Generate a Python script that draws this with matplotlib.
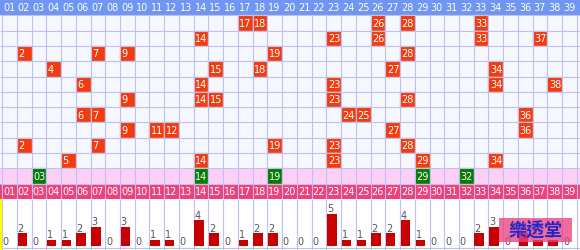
import matplotlib
matplotlib.use("Agg")
import matplotlib.pyplot as plt
from matplotlib.patches import Rectangle

numbers = list(range(1, 40))

draws = [
    [17, 18, 26, 28, 33],
    [14, 23, 26, 33, 37],
    [2, 7, 9, 19, 28],
    [4, 15, 18, 27, 34],
    [6, 14, 23, 34, 38],
    [9, 14, 15, 23, 28],
    [6, 7, 24, 25, 36],
    [9, 11, 12, 27, 36],
    [2, 7, 19, 23, 28],
    [5, 14, 23, 29, 34],
]
special = [3, 14, 19, 29, 32]
counts = [0, 2, 0, 1, 1, 2, 3, 0, 3, 0, 1, 1, 0, 4, 2, 0, 1, 2, 2, 0,
          0, 0, 5, 1, 1, 2, 2, 4, 1, 0, 0, 0, 2, 3, 0, 2, 1, 1, 0]

blue = '#6f96f2'
grid = '#c0c0f0'
red = '#f23c10'
green = '#057a05'
pink = '#fcd0f6'
pinkhead = '#ef4079'
cellbg = '#f5f8ff'

fig = plt.figure(figsize=(5.8, 2.5), dpi=100)
top = fig.add_axes([0, 51 / 250, 1, 199 / 250])
bot = fig.add_axes([0, 0, 1, 51 / 250])

xl = (0.36, 39.71)

for ax in (top, bot):
    ax.set_xlim(xl)
    ax.set_xticks([])
    ax.set_yticks([])
    for s in ax.spines.values():
        s.set_visible(False)

# table part
top.set_ylim(13, 0)
top.set_facecolor(cellbg)
top.axhspan(0, 1, color=blue, lw=0)
top.axhspan(11, 12, color=pink, lw=0)
top.axhspan(12, 13, color=pinkhead, lw=0)
top.vlines([n - 0.5 for n in numbers] + [39.5], 1, 13, color=grid, lw=0.8)
top.hlines(range(1, 13), xl[0], xl[1], color=grid, lw=0.8)

for n in numbers:
    top.text(n - 0.43, 0.55, f'{n:02d}', color='white', fontsize=7, ha='left', va='center')
    top.text(n - 0.43, 12.55, f'{n:02d}', color='white', fontsize=7, ha='left', va='center')

for r, row in enumerate(draws):
    for n in row:
        top.add_patch(Rectangle((n - 0.5, r + 1), 1, 1, fc=red, ec='#f4a898', lw=0.3))
        top.text(n - 0.4, r + 1.55, str(n), color='white', fontsize=7, ha='left', va='center')

for n in special:
    top.add_patch(Rectangle((n - 0.5, 11), 1, 1, fc=green, ec='#a0c8a0', lw=0.3))
    top.text(n - 0.4, 11.55, f'{n:02d}', color='white', fontsize=7, ha='left', va='center')

# bars
bot.set_ylim(-0.54, 7.3)
bot.set_facecolor('white')
bot.vlines([n - 0.5 for n in numbers] + [39.5], -0.54, 7.3, color=grid, lw=0.8)
bot.axhline(-0.17, color=grid, lw=0.8)
bot.axvline(0.43, color='#ffff00', lw=1.6)

bot.bar([n - 0.45 for n in numbers], counts, width=0.64, align='edge', color='#c80000', zorder=3)
for n, c in zip(numbers, counts):
    bot.text(n - 0.45, c + 0.3, str(c), color='#555555', fontsize=7, ha='left', va='baseline', zorder=3)

bot.add_patch(Rectangle((0.86, 0.16), 0.126, 0.47, transform=bot.transAxes,
                        fc='#e8457f', alpha=0.78, lw=0, zorder=5))
bot.text(0.923, 0.40, '樂透堂', transform=bot.transAxes, ha='center', va='center',
         color='#2525cc', fontsize=13, fontweight='bold',
         family=['Noto Sans CJK TC', 'DejaVu Sans'], zorder=6)

fig.savefig('out.png', dpi=100)
